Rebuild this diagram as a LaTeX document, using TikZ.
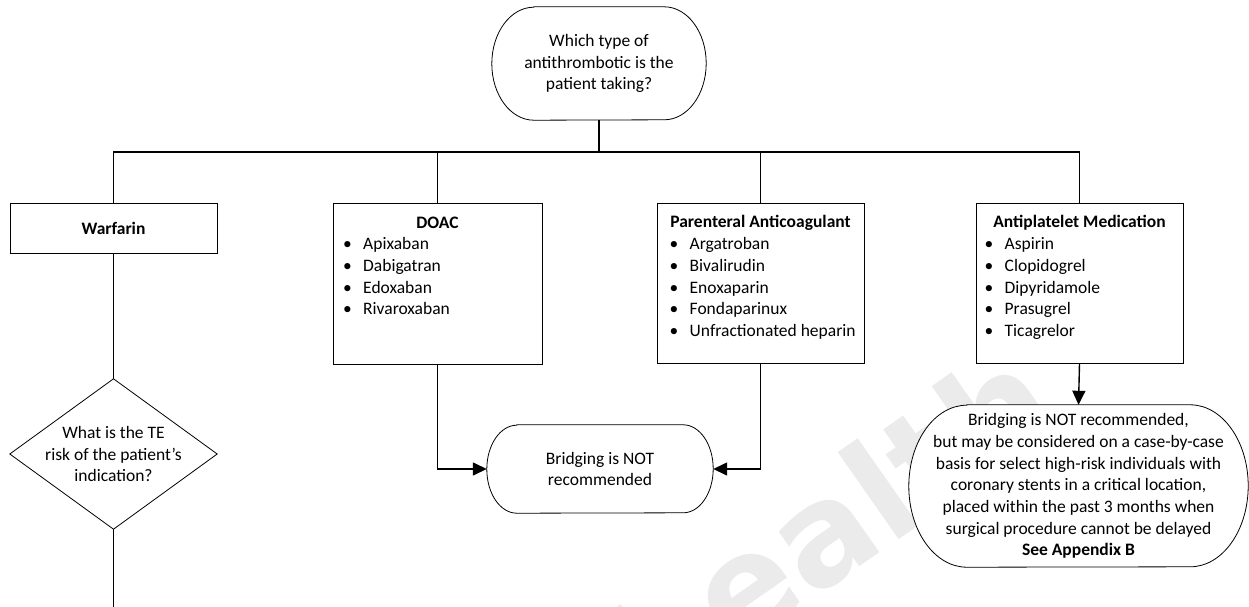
\documentclass[tikz,border=0pt]{standalone}
\usepackage{fontspec}
\setmainfont{Carlito}
\newfontfamily\wmfont{DejaVu Sans}
\usetikzlibrary{arrows.meta,calc}
\newcommand\termpath[3]{%
  \draw[shapeline] ([xshift=#2]#1.north west) -- ([xshift=-#2]#1.north east)
    arc[start angle=90,end angle=-90,x radius=#2,y radius=#3]
    -- ([xshift=#2]#1.south west)
    arc[start angle=270,end angle=90,x radius=#2,y radius=#3] -- cycle;}
\newcommand\bul[1]{\makebox[20pt][l]{\textbullet}#1}
\begin{document}
\begin{tikzpicture}[x=1pt,y=-1pt,
  every node/.style={font=\fontsize{17.5pt}{21.7pt}\selectfont, inner sep=0pt},
  shapeline/.style={line width=0.8pt, fill=white},
  box/.style={draw, fill=white, line width=0.8pt, minimum width=207pt, minimum height=160pt},
  conn/.style={line width=1.4pt},
  arr/.style={conn, -{Triangle[length=14pt,width=13pt]}},
  listtxt/.style={anchor=north west, align=left},
  ttl/.style={font=\fontsize{17.5pt}{21.7pt}\selectfont\bfseries}]
\useasboundingbox (0,0) rectangle (1249,607);
% watermark
\begin{scope}
\clip (0,0) rectangle (1249,607);
\node[rotate=35, anchor=base east, text=black!8,
  font=\wmfont\bfseries\fontsize{140pt}{140pt}\selectfont] (wm) at (1065,423) {health};
\end{scope}
% top question
\node[minimum width=214pt, minimum height=113pt] (q) at (599,63.5) {};
\termpath{q}{42pt}{56.5pt}
\node[align=center] (qt) at (q.center) {Which type of\\antithrombotic is the\\patient taking?};
\coordinate (hub) at (599,152);
% boxes
\node[draw, fill=white, line width=0.8pt, minimum width=207pt, minimum height=50pt, ttl] (warf) at (113.5,228) {Warfarin};
\node[minimum width=207pt, minimum height=150pt] (dia) at (113.5,454) {};
\draw[shapeline] (dia.north) -- (dia.east) -- (dia.south) -- (dia.west) -- cycle;
\node[align=center] (diat) at (dia.center) {What is the TE\\risk of the patient's\\indication?};
\coordinate (wend) at (113.5,612);

\node[box, minimum width=209pt, minimum height=161pt] (doac) at (437.5,283.5) {};
\node[ttl] (doact) at (437.5,223) {DOAC};
\node[listtxt] (doacl) at (343,237.5) {\bul{Apixaban}\\\bul{Dabigatran}\\\bul{Edoxaban}\\\bul{Rivaroxaban}};

\node[box] (par) at (760.5,283) {};
\node[ttl] (part) at (760.5,223) {Parenteral Anticoagulant};
\node[listtxt] (parl) at (669.5,237.5) {\bul{Argatroban}\\\bul{Bivalirudin}\\\bul{Enoxaparin}\\\bul{Fondaparinux}\\\bul{Unfractionated heparin}};

\node[box] (apl) at (1079.5,283) {};
\node[ttl] (aplt) at (1079.5,223) {Antiplatelet Medication};
\node[listtxt] (apll) at (984.5,237.5) {\bul{Aspirin}\\\bul{Clopidogrel}\\\bul{Dipyridamole}\\\bul{Prasugrel}\\\bul{Ticagrelor}};

% outcomes
\node[minimum width=226pt, minimum height=88pt] (bridge) at (600,469) {};
\termpath{bridge}{30pt}{44pt}
\node[align=center] (bridget) at (bridge.center) {Bridging is NOT\\recommended};
\node[minimum width=339pt, minimum height=162pt] (big) at (1078.5,486) {};
\termpath{big}{58pt}{81pt}
\node[align=center] (bigt) at (big.center)
  {Bridging is NOT recommended,\\but may be considered on a case-by-case\\basis for select high-risk individuals with\\coronary stents in a critical location,\\placed within the past 3 months when\\surgical procedure cannot be delayed\\\textbf{See Appendix B}};

% connectors
\draw[conn] (q.south) -- (hub);
\draw[conn] (warf.north) |- (hub);
\draw[conn] (apl.north) |- (hub);
\draw[conn] (doac.north) -- (doac.north |- hub);
\draw[conn] (par.north) -- (par.north |- hub);
\draw[conn] (warf.south) -- (dia.north);
\draw[conn] (dia.south) -- (wend);
\draw[arr] (doac.south) |- (bridge.west);
\draw[arr] (par.south) |- (bridge.east);
\draw[arr] (apl.south) -- (big.north);
\end{tikzpicture}
\end{document}
